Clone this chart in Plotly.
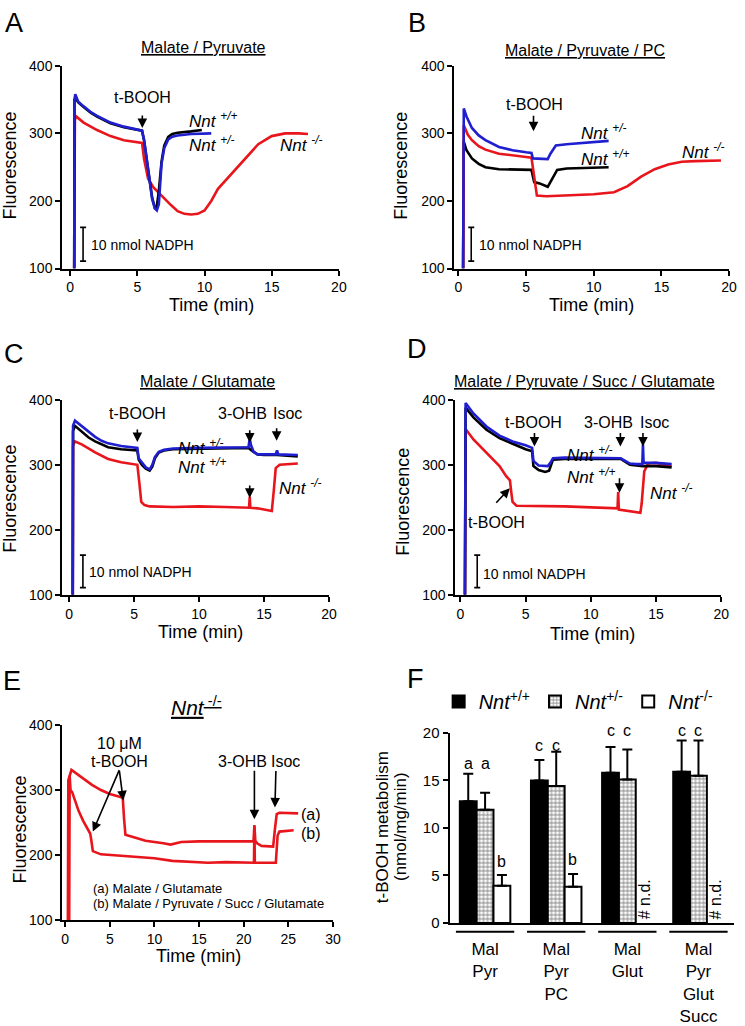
import plotly.graph_objects as go

W, H = 745, 1026
RED = "#e8161c"
BLUE = "#1f1fd0"
BLACK = "#000000"
FONT = "Arial, 'Liberation Sans', sans-serif"

# --------------------- Panel A: Malate / Pyruvate
a_wt_t = [0.30, 0.32, 0.40, 0.6, 1.0, 1.5, 2.0, 3.0, 4.0, 5.0, 5.35, 5.5, 5.7, 5.9, 6.1, 6.3, 6.45, 6.6, 6.8, 7.0, 7.3, 7.6, 8.0, 9.0, 9.8]
a_wt_y = [100, 350, 352, 346, 339, 331, 325, 315, 309, 305, 304, 290, 262, 232, 205, 190, 192, 215, 258, 282, 295, 299, 301, 303, 305]
a_het_t = [0.30, 0.32, 0.38, 0.6, 1.0, 1.5, 2.0, 3.0, 4.0, 5.0, 5.35, 5.5, 5.7, 5.9, 6.1, 6.3, 6.45, 6.6, 6.8, 7.0, 7.3, 7.6, 8.0, 9.0, 10.5]
a_het_y = [100, 350, 358, 347, 340, 332, 326, 316, 310, 305, 304, 290, 262, 230, 203, 189, 186, 195, 255, 278, 291, 295, 297, 299, 300]
a_ko_t = [0.30, 0.35, 0.45, 1.0, 2.0, 3.0, 4.0, 5.0, 5.35, 5.5, 5.8, 6.2, 6.5, 7.0, 7.5, 8.0, 8.5, 9.0, 9.5, 10.0, 10.5, 11.0, 12.0, 13.0, 14.0, 15.0, 16.0, 17.0, 17.7]
a_ko_y = [100, 320, 325, 316, 305, 296, 290, 287, 286, 262, 233, 220, 214, 203, 194, 185, 181, 180, 181, 186, 200, 218, 240, 262, 284, 296, 300, 300, 299]

# --------------------- Panel B: Malate / Pyruvate / PC
b_wt_t = [0.35, 0.37, 0.4, 0.6, 1.0, 1.5, 2.0, 3.0, 5.4, 5.6, 6.0, 6.6, 6.9, 7.3, 8.0, 11.1]
b_wt_y = [100, 285, 288, 275, 263, 255, 250, 247, 246, 228, 226, 221, 232, 246, 248, 250]
b_het_t = [0.35, 0.37, 0.4, 0.6, 1.0, 1.5, 2.0, 3.0, 4.0, 5.0, 5.4, 5.5, 6.6, 6.8, 7.2, 8.0, 10.0, 11.1]
b_het_y = [100, 330, 337, 325, 308, 297, 290, 280, 275, 272, 271, 263, 262, 270, 282, 284, 287, 289]
b_ko_t = [0.35, 0.37, 0.4, 0.7, 1.0, 1.5, 2.0, 3.0, 4.0, 5.0, 5.4, 5.6, 5.8, 6.5, 8.0, 10.0, 11.5, 12.5, 13.5, 14.5, 15.5, 16.5, 17.5, 19.4]
b_ko_y = [100, 305, 312, 298, 290, 281, 276, 270, 267, 265, 264, 235, 208, 207, 208, 210, 213, 222, 236, 247, 254, 258, 259, 260]

# --------------------- Panel C: Malate / Glutamate
c_wt_t = [0.28, 0.3, 0.45, 0.7, 1.0, 1.5, 2.0, 2.5, 3.0, 4.0, 5.0, 5.25, 5.35, 5.6, 5.9, 6.2, 6.4, 6.6, 6.9, 7.3, 8.0, 10.0, 13.8, 14.2, 14.5, 15.0, 16.0, 17.6]
c_wt_y = [100, 352, 360, 356, 350, 342, 336, 331, 327, 324, 322, 322, 308, 300, 294, 291, 297, 310, 319, 322, 324, 325, 326, 320, 316, 315, 315, 313]
c_het_t = [0.28, 0.3, 0.45, 0.7, 1.0, 1.5, 2.0, 2.5, 3.0, 4.0, 5.0, 5.25, 5.35, 5.6, 5.9, 6.2, 6.4, 6.6, 6.9, 7.3, 8.0, 10.0, 13.8, 13.9, 14.0, 14.2, 14.5, 15.0, 15.9, 16.0, 16.1, 17.6]
c_het_y = [100, 360, 368, 364, 358, 350, 343, 337, 333, 329, 327, 326, 310, 303, 296, 293, 300, 312, 320, 323, 325, 326, 327, 340, 330, 320, 316, 316, 316, 322, 316, 315]
c_ko_t = [0.28, 0.3, 0.45, 1.0, 2.0, 3.0, 4.0, 5.0, 5.25, 5.4, 5.55, 5.8, 6.2, 8.0, 10.0, 12.0, 13.85, 13.9, 13.95, 14.5, 15.0, 15.6, 15.75, 15.9, 16.2, 17.6]
c_ko_y = [100, 330, 336, 331, 319, 309, 304, 301, 300, 273, 243, 238, 236, 235, 236, 235, 234, 251, 234, 233, 231, 229, 260, 295, 300, 302]

# --------------------- Panel D: Malate / Pyruvate / Succ / Glutamate
d_wt_t = [0.35, 0.37, 0.4, 1.0, 2.0, 3.0, 4.0, 5.0, 5.5, 5.6, 6.0, 6.5, 6.8, 7.1, 8.0, 12.3, 13.0, 14.0, 15.0, 16.2]
d_wt_y = [100, 380, 388, 373, 354, 341, 332, 324, 321, 298, 292, 289, 291, 308, 309, 309, 300, 298, 298, 296]
d_het_t = [0.35, 0.37, 0.4, 1.0, 2.0, 3.0, 4.0, 5.0, 5.5, 5.6, 6.0, 6.7, 6.9, 7.1, 8.0, 12.3, 13.0, 13.5, 13.95, 14.0, 14.05, 14.2, 15.0, 16.2]
d_het_y = [100, 388, 395, 379, 359, 345, 336, 330, 326, 306, 299, 298, 303, 310, 311, 310, 302, 301, 301, 331, 303, 303, 303, 301]
d_ko_t = [0.35, 0.37, 0.4, 1.0, 2.0, 3.0, 3.5, 3.8, 3.9, 4.0, 4.3, 8.0, 12.05, 12.1, 12.15, 13.8, 13.9, 14.1, 14.4, 15.0, 16.2]
d_ko_y = [100, 348, 355, 339, 319, 298, 283, 276, 258, 243, 237, 236, 233, 258, 231, 226, 240, 290, 302, 303, 298]

# --------------------- Panel E: Nnt-/-, (a) Malate / Glutamate, (b) Malate / Pyruvate / Succ / Glutamate
e_a_t = [0.3, 0.35, 0.7, 1.0, 2.0, 3.0, 4.0, 5.0, 6.0, 6.45, 6.6, 6.75, 7.5, 9.0, 11.0, 11.8, 13.0, 15.0, 21.1, 21.2, 21.3, 21.5, 22.0, 23.3, 23.5, 23.7, 24.0, 26.1]
e_a_y = [100, 315, 331, 328, 318, 308, 300, 294, 290, 288, 255, 231, 228, 222, 218, 216, 220, 221, 221, 246, 222, 218, 214, 213, 240, 263, 265, 264]
e_b_t = [0.45, 0.5, 0.6, 0.8, 1.0, 1.5, 2.0, 2.5, 2.8, 2.9, 3.1, 4.0, 6.0, 8.0, 10.0, 12.0, 14.0, 16.0, 18.0, 21.15, 21.2, 21.25, 23.6, 23.8, 24.0, 25.6]
e_b_y = [100, 322, 300, 296, 288, 268, 253, 241, 233, 225, 206, 201, 199, 197, 195, 191, 189, 188, 189, 188, 244, 188, 188, 230, 236, 238]

# --------------------- Panel F: t-BOOH metabolism (nmol/mg/min)
f_groups = ["Mal<br>Pyr", "Mal<br>Pyr<br>PC", "Mal<br>Glut", "Mal<br>Pyr<br>Glut<br>Succ"]
f_wt = [12.8, 15.0, 15.8, 15.9]
f_wt_err = [2.9, 2.15, 2.7, 3.3]
f_het = [11.9, 14.4, 15.1, 15.5]
f_het_err = [1.8, 3.6, 3.15, 3.7]
f_ko = [3.9, 3.8, None, None]
f_ko_err = [1.15, 1.35, 0, 0]
f_letters_wt = ["a", "c", "c", "c"]
f_letters_het = ["a", "c", "c", "c"]
f_letters_ko = ["b", "b", "# n.d.", "# n.d."]
f_letter_y = [16.8, 18.7, 20.2, 20.2]
f_letter_ko_y = [6.5, 6.7, 2.5, 2.5]

# scale bar (10 nmol NADPH) in fluorescence units
scale_lo, scale_hi = 111, 161
scale_x = {"": 0.96, "2": 0.95, "3": 1.06, "4": 1.29}


def px(x):
    return x / W


def py(y):
    return 1 - y / H


fig = go.Figure()


def trace(t, y, color, n):
    fig.add_trace(go.Scatter(x=t, y=y, mode="lines", line=dict(color=color, width=2.6),
                             xaxis="x" + n, yaxis="y" + n, showlegend=False, hoverinfo="skip"))


# Time courses (red behind, blue on top)
trace(a_ko_t, a_ko_y, RED, "")
trace(a_wt_t, a_wt_y, BLACK, "")
trace(a_het_t, a_het_y, BLUE, "")
trace(b_wt_t, b_wt_y, BLACK, "2")
trace(b_ko_t, b_ko_y, RED, "2")
trace(b_het_t, b_het_y, BLUE, "2")
trace(c_ko_t, c_ko_y, RED, "3")
trace(c_wt_t, c_wt_y, BLACK, "3")
trace(c_het_t, c_het_y, BLUE, "3")
trace(d_ko_t, d_ko_y, RED, "4")
trace(d_wt_t, d_wt_y, BLACK, "4")
trace(d_het_t, d_het_y, BLUE, "4")
trace(e_a_t, e_a_y, RED, "5")
trace(e_b_t, e_b_y, RED, "5")

# scale bars
for n, sx in scale_x.items():
    fig.add_trace(go.Scatter(
        x=[sx], y=[(scale_lo + scale_hi) / 2], mode="markers",
        marker=dict(size=1, color="rgba(0,0,0,0)"),
        error_y=dict(type="data", array=[(scale_hi - scale_lo) / 2], color=BLACK, thickness=1.6, width=3),
        xaxis="x" + n, yaxis="y" + n, showlegend=False, hoverinfo="skip"))

# Bars
ebar = dict(type="data", symmetric=False, color=BLACK, thickness=2, width=5)
fig.add_trace(go.Bar(x=f_groups, y=f_wt, name="<i>Nnt</i><sup>+/+</sup>",
                     marker=dict(color=BLACK, line=dict(color=BLACK, width=2)),
                     error_y=dict(array=f_wt_err, arrayminus=[0] * 4, **ebar),
                     xaxis="x6", yaxis="y6"))
fig.add_trace(go.Bar(x=f_groups, y=f_het, name="<i>Nnt</i><sup>+/-</sup>",
                     marker=dict(color="white", line=dict(color=BLACK, width=2),
                                 pattern=dict(shape="+", fgcolor=BLACK, bgcolor="white", size=4, solidity=0.4)),
                     error_y=dict(array=f_het_err, arrayminus=[0] * 4, **ebar),
                     xaxis="x6", yaxis="y6"))
fig.add_trace(go.Bar(x=f_groups, y=f_ko, name="<i>Nnt</i><sup>-/-</sup>",
                     marker=dict(color="white", line=dict(color=BLACK, width=2)),
                     error_y=dict(array=f_ko_err, arrayminus=[0] * 4, **ebar),
                     xaxis="x6", yaxis="y6"))

axis_style = dict(showline=True, linewidth=2, linecolor=BLACK, ticks="outside", ticklen=5, tickwidth=2,
                  tickcolor=BLACK, showgrid=False, zeroline=False, tickfont=dict(size=14, color=BLACK))

panels = [
    ("", (62, 342), (58, 265), (-0.59, 20), 5),
    ("2", (459, 737), (58, 265), (-0.29, 20), 5),
    ("3", (62, 332), (399, 598), (-0.53, 20), 5),
    ("4", (460, 729), (399, 598), (-0.38, 20), 5),
    ("5", (62, 336), (731, 930), (-0.33, 30), 5),
]
layout_axes = {}
for n, (x0, x1), (y0, y1), xr, dt in panels:
    layout_axes["xaxis" + n] = dict(domain=[px(x0), px(x1)], anchor="y" + n, range=list(xr), dtick=dt, tick0=0, **axis_style)
    layout_axes["yaxis" + n] = dict(domain=[py(y1), py(y0)], anchor="x" + n, range=[100, 400], dtick=100, **axis_style)

layout_axes["xaxis6"] = dict(domain=[px(454), px(742)], anchor="y6", showline=True, linewidth=2, linecolor=BLACK,
                             ticks="", showgrid=False, zeroline=False, ticklabelstandoff=10,
                             tickfont=dict(size=17, color=BLACK), range=[-0.5, 3.5])
layout_axes["yaxis6"] = dict(domain=[py(933), py(739)], anchor="x6", range=[0, 20], dtick=5,
                             **{**axis_style, "tickfont": dict(size=15, color=BLACK)})

ann = []


def txt(x, y, s, size=16, **kw):
    d = dict(x=px(x), y=py(y), xref="paper", yref="paper", text=s, showarrow=False,
             font=dict(size=size, color=BLACK), xanchor="center", yanchor="middle")
    d.update(kw)
    ann.append(d)


def arrow(n, x, y, ax, ay):
    ann.append(dict(x=x, y=y, xref="x" + n, yref="y" + n, ax=ax, ay=ay, text="", showarrow=True,
                    arrowhead=2, arrowsize=1.2, arrowwidth=1.6, arrowcolor=BLACK))


# panel letters
for s, x, y in [("A", 13, 14), ("B", 421, 14), ("C", 13, 352), ("D", 421, 347), ("E", 11, 686), ("F", 420, 684)]:
    txt(x, y, s, size=27)

# titles
txt(205, 39, "<u>Malate / Pyruvate</u>")
txt(591, 42, "<u>Malate / Pyruvate / PC</u>")
txt(209, 380, "<u>Malate / Glutamate</u>")
txt(591, 380, "<u>Malate / Pyruvate / Succ / Glutamate</u>")
txt(198, 712, "<u><i>Nnt</i><sup> -/-</sup></u>", size=21)

# axis titles
for x, y in [(9, 160), (405, 160), (9, 500), (407, 503), (19, 838)]:
    txt(x, y, "Fluorescence", size=18, textangle=-90)
for x, y in [(213, 302), (598, 302), (202, 636), (599, 638), (200, 967)]:
    txt(x, y, "Time (min)", size=18)
txt(387, 835, "t-BOOH metabolism", size=17, textangle=-90)
txt(405, 835, "(nmol/mg/min)", size=17, textangle=-90)

# scale bar labels
for x, y in [(89, 241), (482, 241), (87, 575), (486, 577)]:
    txt(x, y, "10 nmol NADPH", size=14, xanchor="left")

# genotype labels
nnt = {"wt": "<i>Nnt <sup>+/+</sup></i>", "het": "<i>Nnt <sup>+/-</sup></i>", "ko": "<i>Nnt <sup>-/-</sup></i>"}
for k, x, y in [("wt", 188, 113), ("het", 188, 138), ("ko", 280, 138),
                ("het", 585, 126), ("wt", 585, 152), ("ko", 687, 145),
                ("het", 177, 447), ("wt", 177, 467), ("ko", 279, 488),
                ("het", 571, 454), ("wt", 571, 477), ("ko", 655, 493)]:
    txt(x, y, nnt[k], size=17, xanchor="left")

# additions
for x, y, s in [(143, 90, "t-BOOH"), (540, 97, "t-BOOH"),
                (138, 413, "t-BOOH"), (244, 413, "3-OHB"), (290, 413, "Isoc"),
                (539, 422, "t-BOOH"), (615, 422, "3-OHB"), (661, 422, "Isoc"), (502, 524, "t-BOOH"),
                (120, 750, "10 \u03bcM"), (120, 768, "t-BOOH"), (244, 768, "3-OHB"), (288, 768, "Isoc")]:
    txt(x, y, s)
arrow("", 5.37, 308, 0, -14)
arrow("2", 5.55, 303, 0, -17)
arrow("3", 5.25, 335, 0, -14)
arrow("3", 13.9, 334, 0, -14)
arrow("3", 15.97, 337, 0, -14)
arrow("3", 13.9, 249, 0, -14)
arrow("4", 5.68, 328, 0, -15)
arrow("4", 12.27, 328, 0, -15)
arrow("4", 14.0, 328, 0, -15)
arrow("4", 12.2, 257, 0, -16)
arrow("4", 3.79, 264, -15, 16)
arrow("5", 3.1, 236, 27, -63)
arrow("5", 6.5, 284, -4, -31)
arrow("5", 21.2, 255, 0, -50)
arrow("5", 23.5, 273, 1, -38)

txt(302, 822, "(a)", xanchor="left")
txt(302, 842, "(b)", xanchor="left")
txt(91, 898, "(a) Malate / Glutamate", size=13, xanchor="left")
txt(91, 913, "(b) Malate / Pyruvate / Succ / Glutamate", size=13, xanchor="left")

# bar letters (anchored inside the axis range, shifted up in pixels where needed)
w = 0.236
unit_px = (933 - 739) / 20
for i in range(4):
    for dx, s, yy, ang in [(-w, f_letters_wt[i], f_letter_y[i], 0), (0, f_letters_het[i], f_letter_y[i], 0),
                           (w, f_letters_ko[i], f_letter_ko_y[i], -90 if "#" in f_letters_ko[i] else 0)]:
        y_in = min(yy, 19.5)
        ann.append(dict(x=i + dx, y=y_in, xref="x6", yref="y6", text=s, showarrow=False, textangle=ang,
                        yshift=(yy - y_in) * unit_px,
                        font=dict(size=16, color=BLACK), xanchor="center", yanchor="middle"))

shapes = []
for i in range(4):
    shapes.append(dict(type="line", xref="x6", yref="paper", x0=i - 0.41, x1=i + 0.41, y0=py(942), y1=py(942),
                       line=dict(color=BLACK, width=2)))

fig.update_layout(
    width=W, height=H, margin=dict(l=0, r=0, t=0, b=0),
    paper_bgcolor="white", plot_bgcolor="white",
    font=dict(family=FONT, color=BLACK),
    barmode="group", bargap=0.29, bargroupgap=0,
    legend=dict(orientation="h", x=px(443), y=py(707), xanchor="left", yanchor="middle",
                font=dict(size=20), itemwidth=30, bgcolor="rgba(0,0,0,0)"),
    annotations=ann, shapes=shapes, **layout_axes)

fig.write_html("out.html", config={"displayModeBar": False},
               post_script="document.body.style.margin='0';")
